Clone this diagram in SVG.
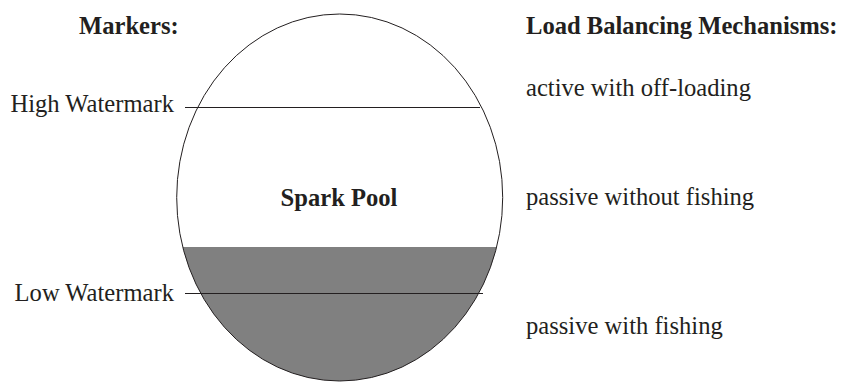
<svg xmlns="http://www.w3.org/2000/svg" width="841" height="382" viewBox="0 0 841 382">
<style>
text{font-family:"Liberation Serif","Times New Roman",serif;font-size:24.6px;fill:#231f20}
.b{font-weight:bold}
.ln{stroke:#231f20;stroke-width:1;fill:none}
</style>
<defs>
<clipPath id="clip"><ellipse cx="339.7" cy="197.5" rx="163" ry="183.5"/></clipPath>
</defs>
<rect width="841" height="382" fill="#fff"/>
<g id="pool">
<rect x="170" y="247" width="340" height="140" fill="#808080" clip-path="url(#clip)"/>
<ellipse cx="339.7" cy="197.5" rx="163" ry="183.5" class="ln"/>
<text x="339" y="206" text-anchor="middle" class="b">Spark Pool</text>
</g>
<g id="markers">
<text x="79" y="34" class="b">Markers:</text>
<text x="174" y="112" text-anchor="end">High Watermark</text>
<text x="174" y="301" text-anchor="end">Low Watermark</text>
</g>
<g id="connectors">
<line x1="185" y1="107.5" x2="480" y2="107.5" class="ln"/>
<line x1="185" y1="293.5" x2="483" y2="293.5" class="ln"/>
</g>
<g id="mechanisms">
<text x="526" y="34" class="b">Load Balancing Mechanisms:</text>
<text x="526" y="96">active with off-loading</text>
<text x="526" y="205">passive without fishing</text>
<text x="526" y="334">passive with fishing</text>
</g>
</svg>
